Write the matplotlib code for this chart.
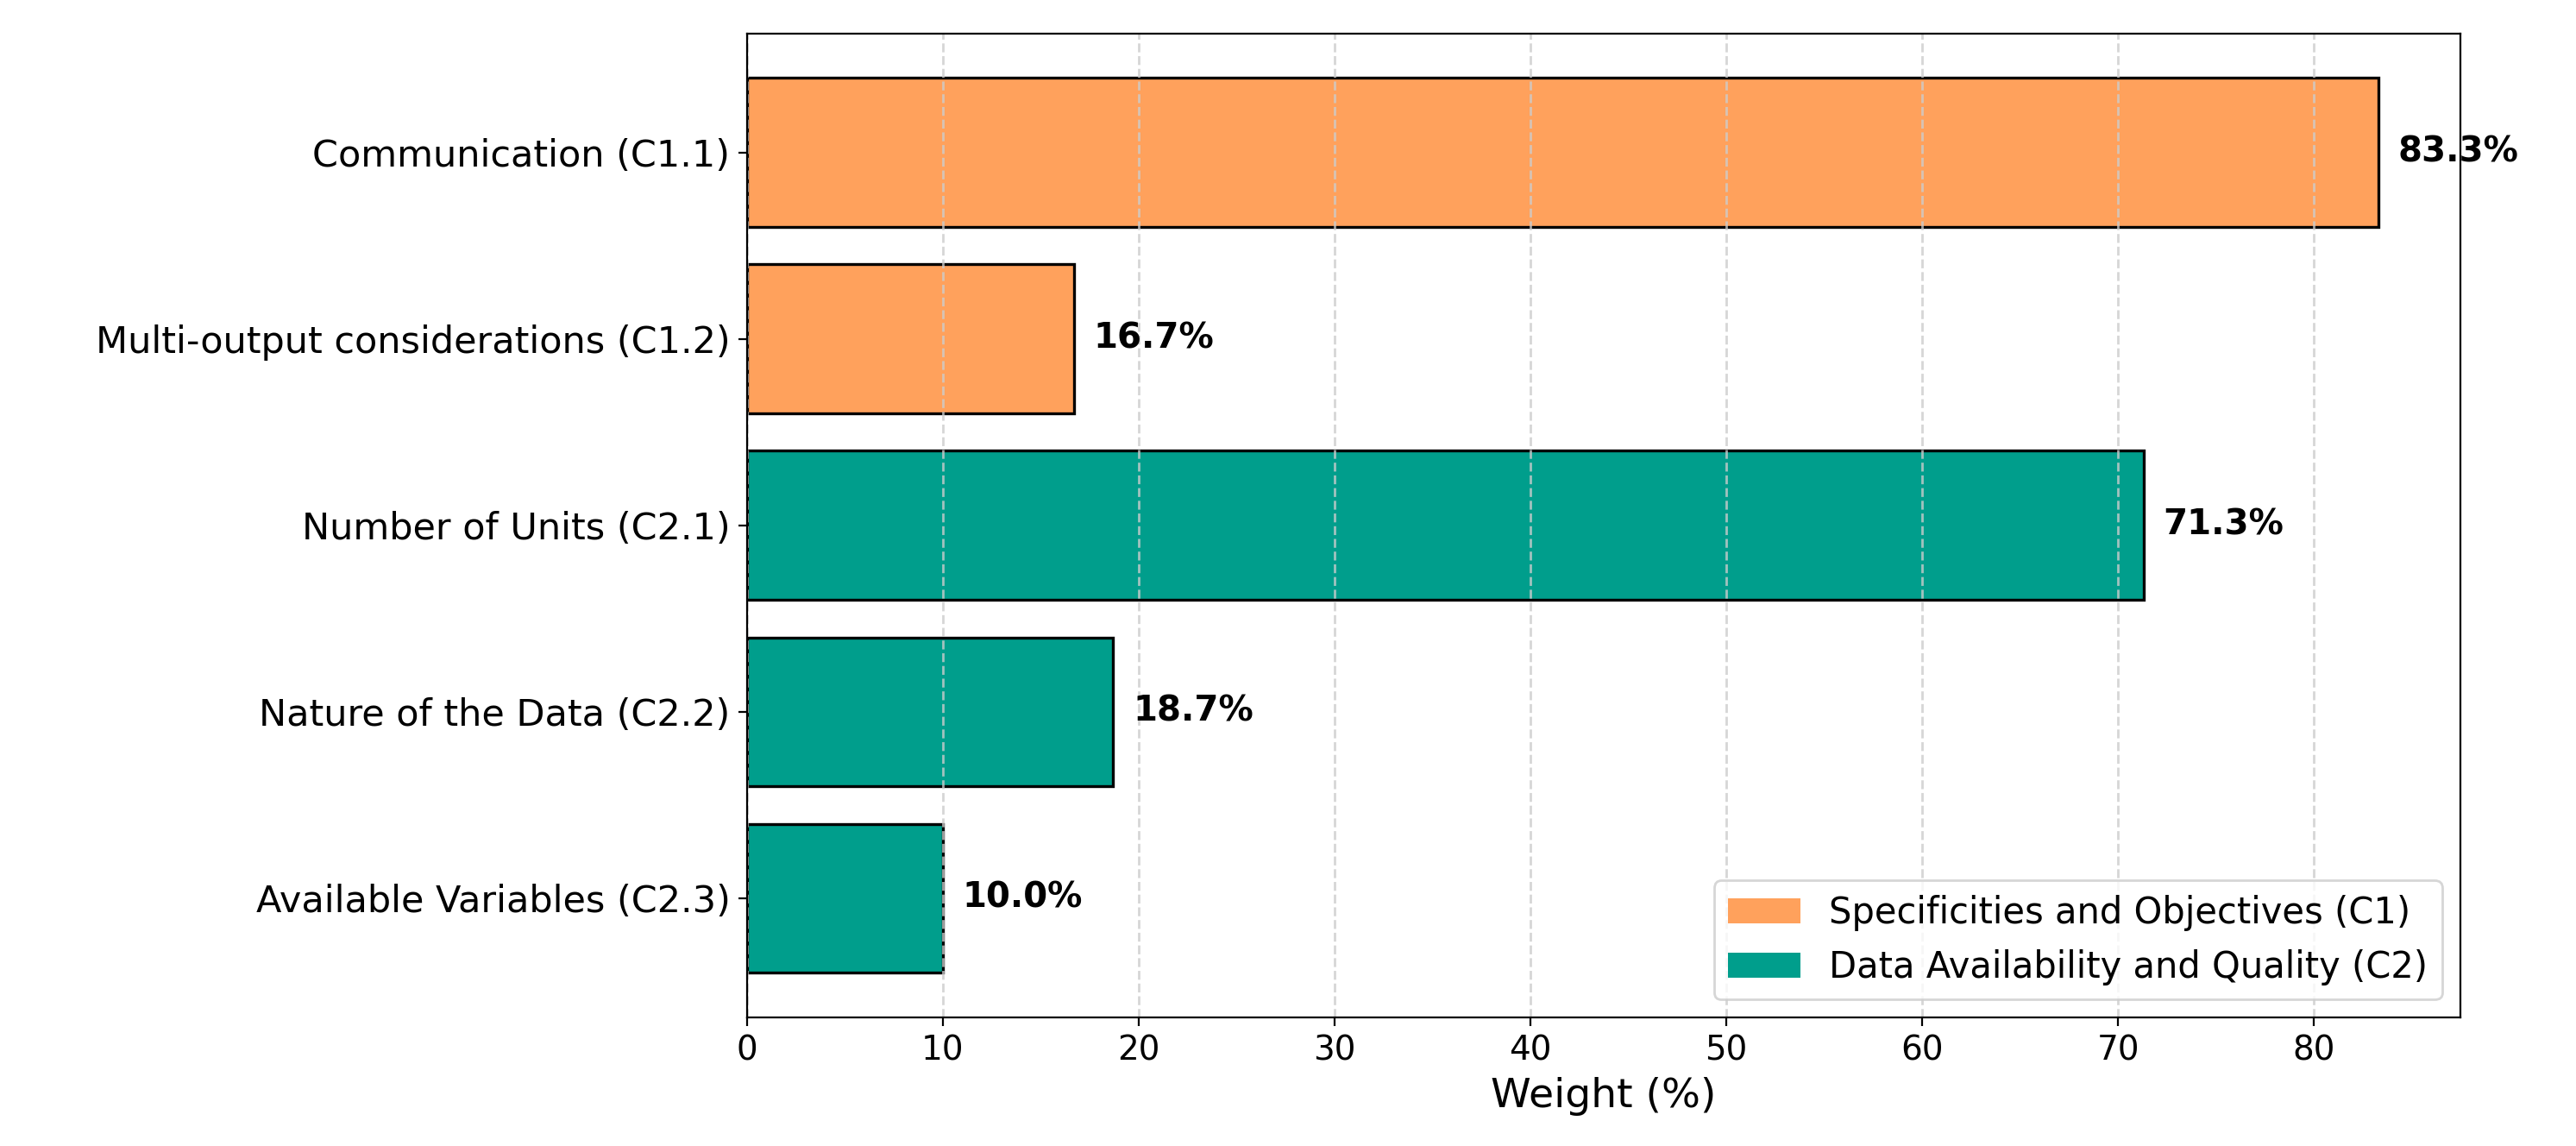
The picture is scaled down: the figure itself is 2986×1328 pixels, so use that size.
import matplotlib
matplotlib.use("Agg")
import matplotlib.pyplot as plt
from matplotlib.patches import Patch

# data
labels = ["Communication (C1.1)", "Multi-output considerations (C1.2)",
          "Number of Units (C2.1)", "Nature of the Data (C2.2)",
          "Available Variables (C2.3)"]
weights = [83.3, 16.7, 71.3, 18.7, 10.0]
groups = ["C1", "C1", "C2", "C2", "C2"]
group_names = {"C1": "Specificities and Objectives (C1)",
               "C2": "Data Availability and Quality (C2)"}
group_colors = {"C1": "#FFA15C", "C2": "#009E8C"}

fig = plt.figure(figsize=(14.93, 6.64), dpi=200)
ax = fig.add_axes([0.290, 0.112, 0.665, 0.859])

ypos = list(range(len(labels)))[::-1]
cols = [group_colors[g] for g in groups]
ax.barh(ypos, weights, height=0.8, color=cols, edgecolor="black", linewidth=1.2)

for y, w in zip(ypos, weights):
    ax.text(w + 1, y, f"{w:.1f}%", va="center", ha="left",
            fontsize=14.5, fontweight="bold", clip_on=False, zorder=5)

ax.set_yticks(ypos)
ax.set_yticklabels(labels, fontsize=15.5)
ax.tick_params(axis="x", labelsize=14)
ax.set_xlabel("Weight (%)", fontsize=17)
ax.grid(axis="x", linestyle="--", color="#cccccc", linewidth=1.0, alpha=0.8)

handles = [Patch(facecolor=group_colors[k], label=group_names[k]) for k in ["C1", "C2"]]
ax.legend(handles=handles, loc="lower right", fontsize=15)

fig.savefig("out.png", dpi=200)
